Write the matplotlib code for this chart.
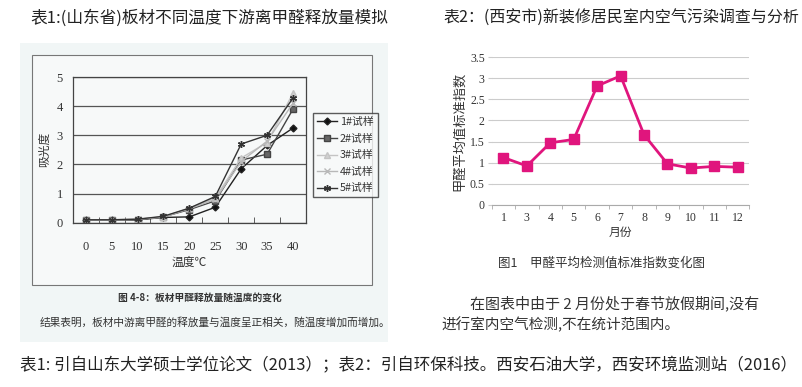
import numpy as np
import matplotlib
matplotlib.use("Agg")
from matplotlib import pyplot as plt
from matplotlib.patches import Rectangle

plt.rcParams['font.family'] = ['Noto Sans CJK SC', 'DejaVu Sans']
SERIF = ['Liberation Serif', 'Noto Sans CJK SC']

# ---- 表1 data ----
temps = [0, 5, 10, 15, 20, 25, 30, 35, 40]
s1 = [0.10, 0.10, 0.10, 0.18, 0.20, 0.53, 1.85, 2.65, 3.25]
s2 = [0.10, 0.10, 0.10, 0.20, 0.45, 0.75, 2.15, 2.35, 3.90]
s3 = [0.10, 0.10, 0.12, 0.20, 0.50, 0.85, 2.22, 2.75, 4.45]
s4 = [0.10, 0.10, 0.12, 0.20, 0.48, 0.80, 2.10, 2.80, 4.10]
s5 = [0.10, 0.10, 0.12, 0.22, 0.50, 0.90, 2.70, 3.00, 4.28]
names = ["1#试样", "2#试样", "3#试样", "4#试样", "5#试样"]

# ---- 表2 data ----
months = ["1", "3", "4", "5", "6", "7", "8", "9", "10", "11", "12"]
index_vals = [1.12, 0.92, 1.47, 1.55, 2.82, 3.06, 1.66, 0.97, 0.87, 0.91, 0.89]

W, H = 803, 387
fig = plt.figure(figsize=(W / 100, H / 100), dpi=100)

def fx(px):
    return px / W

def fy(py):
    return 1 - py / H

# scanned background of left picture
fig.patches.append(Rectangle((fx(20), fy(342)), fx(368), 299 / H,
                             transform=fig.transFigure, facecolor="#f1f6f6",
                             edgecolor="none", zorder=-10))
fig.patches.append(Rectangle((fx(32), fy(285)), fx(340), 230 / H,
                             transform=fig.transFigure, facecolor="#f7f9f9",
                             edgecolor="#777777", lw=0.8, zorder=-9))

# titles
fig.text(fx(30), fy(18), "表1:(山东省)板材不同温度下游离甲醛释放量模拟",
         fontsize=12, va="center", ha="left", color="#222222")
fig.text(fx(443), fy(18), "表2：(西安市)新装修居民室内空气污染调查与分析",
         fontsize=11.5, va="center", ha="left", color="#222222")
fig.text(fx(20), fy(365),
         "表1: 引自山东大学硕士学位论文（2013）；表2：引自环保科技。西安石油大学，西安环境监测站（2016）",
         fontsize=11.9, va="center", ha="left", color="#222222")

# ---- left chart ----
ax1 = fig.add_axes([fx(72.7), fy(222.7), fx(233.3), 145.7 / H])
ax1.set_facecolor("#f7f9f9")
xs = np.arange(len(temps))
styles = [
    dict(color="#222222", marker="D", ms=3.5, mfc="#111111"),
    dict(color="#444444", marker="s", ms=4, mfc="#666666"),
    dict(color="#c4c4c4", marker="^", ms=4, mfc="#d0d0d0"),
    dict(color="#b8b8b8", marker="x", ms=4, mew=1),
    dict(color="#333333", marker=(6, 2, 0), ms=5, mew=1),
]
for vals, st, nm in zip([s1, s2, s3, s4, s5], styles, names):
    ax1.plot(xs, vals, lw=1, label=nm, **st)
ax1.set_xlim(-0.5, len(temps) - 0.5)
ax1.set_ylim(0, 5)
ax1.set_yticks([0, 1, 2, 3, 4, 5])
ax1.yaxis.grid(True, color="#555555", lw=0.9)
ax1.set_axisbelow(True)
ax1.set_xticks(xs)
ax1.set_xticklabels([str(t) for t in temps], family=SERIF, fontsize=9, color="#333333")
ax1.set_xticks(np.arange(-0.5, len(temps), 1), minor=True)
ax1.tick_params(axis="x", which="major", length=0, pad=13)
ax1.tick_params(axis="x", which="minor", direction="in", length=4, color="#444444")
ax1.tick_params(axis="y", length=0, pad=7)
for lab in ax1.get_yticklabels():
    lab.set_family(SERIF)
    lab.set_fontsize(9)
    lab.set_color("#333333")
for sp in ax1.spines.values():
    sp.set_color("#444444")
    sp.set_linewidth(0.9)
ax1.set_ylabel("吸光度", fontsize=8.5, color="#333333", labelpad=4)
ax1.set_xlabel("温度℃", fontsize=8.5, color="#333333", labelpad=2)
leg = ax1.legend(loc="upper left", bbox_to_anchor=(fx(308), fy(108)),
                 bbox_transform=fig.transFigure, fontsize=7.8, frameon=True,
                 fancybox=False, edgecolor="#333333", handlelength=1.8,
                 handletextpad=0.3, borderpad=0.35, labelspacing=0.6)
leg.get_frame().set_facecolor("#f7f9f9")
for t in leg.get_texts():
    t.set_color("#333333")

fig.text(fx(200), fy(298), "图 4-8：板材甲醛释放量随温度的变化", fontsize=7,
         weight="bold", ha="center", va="center", color="#333333")
fig.text(fx(40), fy(323), "结果表明，板材中游离甲醛的释放量与温度呈正相关，随温度增加而增加。",
         fontsize=7.7, ha="left", va="center", color="#333333")

# ---- right chart ----
ax2 = fig.add_axes([fx(491.7), fy(204.7), fx(257.8), 147.4 / H])
xm = np.arange(len(months))
ax2.plot(xm, index_vals, color="#e0157d", lw=2, marker="s", ms=7.5,
         mfc="#e0157d", mec="#e0157d")
ax2.set_xlim(-0.5, len(months) - 0.5)
ax2.set_ylim(0, 3.5)
ax2.set_yticks(np.arange(0, 3.51, 0.5))
ax2.set_yticklabels(["0", "0.5", "1", "1.5", "2", "2.5", "3", "3.5"],
                    family=SERIF, fontsize=8.5, color="#333333")
ax2.yaxis.grid(True, color="#cccccc", lw=0.8)
ax2.set_axisbelow(True)
ax2.set_xticks(xm)
ax2.set_xticklabels(months, family=SERIF, fontsize=8.5, color="#333333")
ax2.set_xticks(np.arange(-0.5, len(months), 1), minor=True)
ax2.tick_params(axis="x", which="major", length=0, pad=5)
ax2.tick_params(axis="x", which="minor", length=3, color="#aaaaaa")
ax2.tick_params(axis="y", length=3, color="#cccccc", pad=2)
for k in ["top", "right", "left"]:
    ax2.spines[k].set_visible(False)
ax2.spines["bottom"].set_color("#aaaaaa")
ax2.set_ylabel("甲醛平均值标准指数", fontsize=9.5, color="#333333", labelpad=3)
ax2.set_xlabel("月份", fontsize=8.5, color="#333333", labelpad=2)

fig.text(fx(498), fy(263), "图1　甲醛平均检测值标准指数变化图", fontsize=9,
         ha="left", va="center", color="#333333")
fig.text(fx(470), fy(303), "在图表中由于 2 月份处于春节放假期间,没有", fontsize=10.8,
         ha="left", va="center", color="#333333")
fig.text(fx(441), fy(325), "进行室内空气检测,不在统计范围内。", fontsize=10.5,
         ha="left", va="center", color="#333333")

fig.savefig("out.png", dpi=100)
